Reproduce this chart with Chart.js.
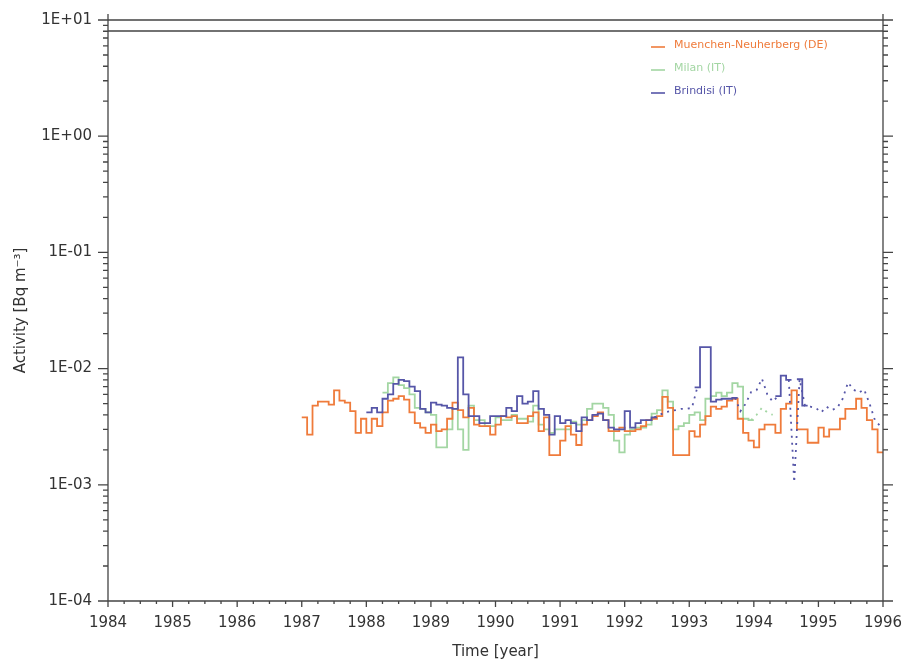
<!DOCTYPE html>
<html>
<head>
<meta charset="utf-8">
<script src="https://cdn.jsdelivr.net/npm/chart.js@4.4.1/dist/chart.umd.min.js"></script>
<style>
  html, body { margin: 0; padding: 0; background: #fff; }
  #wrap { width: 906px; height: 665px; }
</style>
</head>
<body>
<div id="wrap"><canvas id="chartActivity"></canvas></div>
<script>
// ===== ACTIVITY TIME SERIES (monthly, log scale) =====

const FONT = "'DejaVu Sans', sans-serif";
const INK = '#333333';
const AXIS = '#444444';

const COLORS = {
  munich: '#ef7b3b',
  milan: '#a3d6a3',
  brindisi: '#5656a8',
};

const SERIES_LABELS = ['Muenchen-Neuherberg (DE)', 'Milan (IT)', 'Brindisi (IT)'];

const YEARS = [1984, 1985, 1986, 1987, 1988, 1989, 1990, 1991, 1992, 1993, 1994, 1995, 1996];
const DECADES = [1e-4, 1e-3, 1e-2, 1e-1, 1e0, 1e1];
const DECADE_LABELS = ['1E-04', '1E-03', '1E-02', '1E-01', '1E+00', '1E+01'];

// Muenchen-Neuherberg, Jan 1987 - Dec 1995
const munichStart = 1987;
const munich = [
  0.0038, 0.0027, 0.0048, 0.0052, 0.0052, 0.0049, 0.0065, 0.0053, 0.0051, 0.0043, 0.0028, 0.0037,
  0.0028, 0.0037, 0.0032, 0.0042, 0.0053, 0.0055, 0.0058, 0.0054, 0.0042, 0.0034, 0.0031, 0.0028,
  0.0033, 0.0029, 0.0030, 0.0037, 0.0051, 0.0044, 0.0038, 0.0046, 0.0033, 0.0032, 0.0032, 0.0027,
  0.0033, 0.0039, 0.0038, 0.0039, 0.0034, 0.0034, 0.0039, 0.0042, 0.0029, 0.0038, 0.0018, 0.0018,
  0.0024, 0.0032, 0.0027, 0.0022, 0.0033, 0.0036, 0.0039, 0.0042, 0.0036, 0.0029, 0.0029, 0.0031,
  0.0029, 0.0029, 0.0030, 0.0032, 0.0036, 0.0037, 0.0039, 0.0057, 0.0046, 0.0018, 0.0018, 0.0018,
  0.0029, 0.0026, 0.0033, 0.0039, 0.0047, 0.0045, 0.0047, 0.0053, 0.0055, 0.0037, 0.0028, 0.0024,
  0.0021, 0.0030, 0.0033, 0.0033, 0.0028, 0.0045, 0.0050, 0.0065, 0.0030, 0.0030, 0.0023, 0.0023,
  0.0031, 0.0026, 0.0030, 0.0030, 0.0037, 0.0045, 0.0045, 0.0055, 0.0046, 0.0036, 0.0030, 0.0019,
];

// Milan, Apr 1988 - Dec 1993
const milanStart = 1988 + 3 / 12;
const milan = [
  0.0062, 0.0075, 0.0084, 0.0072, 0.0068, 0.0060, 0.0046, 0.0045, 0.0042,
  0.0040, 0.0021, 0.0021, 0.0030, 0.0045, 0.0030, 0.0020, 0.0048, 0.0036, 0.0036, 0.0032, 0.0032,
  0.0038, 0.0036, 0.0036, 0.0040, 0.0037, 0.0037, 0.0035, 0.0048, 0.0033, 0.0030, 0.0028, 0.0030,
  0.0030, 0.0030, 0.0035, 0.0033, 0.0036, 0.0045, 0.0050, 0.0050, 0.0046, 0.0040, 0.0024, 0.0019,
  0.0027, 0.0030, 0.0031, 0.0031, 0.0033, 0.0041, 0.0044, 0.0065, 0.0052, 0.0030, 0.0032, 0.0034,
  0.0040, 0.0042, 0.0036, 0.0055, 0.0058, 0.0062, 0.0058, 0.0062, 0.0075, 0.0070, 0.0037, 0.0036,
];
// Milan, dotted continuation Dec 1993 - Apr 1994
const milanGapStart = 1993 + 11 / 12;
const milanGap = [0.0036, 0.0040, 0.0046, 0.0042, 0.0040];

// Brindisi, Jan 1988 - Oct 1994 (null = missing month)
const brindisiStart = 1988;
const brindisi = [
  0.0042, 0.0046, 0.0042, 0.0055, 0.0060, 0.0074, 0.0080, 0.0078, 0.0070, 0.0064, 0.0045, 0.0042,
  0.0051, 0.0049, 0.0048, 0.0046, 0.0045, 0.0125, 0.0060, 0.0039, 0.0039, 0.0034, 0.0034, 0.0039,
  0.0039, 0.0039, 0.0046, 0.0043, 0.0058, 0.0050, 0.0052, 0.0064, 0.0045, 0.0040, 0.0027, 0.0039,
  0.0034, 0.0036, 0.0034, 0.0029, 0.0038, 0.0036, 0.0040, 0.0041, 0.0036, 0.0031, 0.0030, 0.0030,
  0.0043, 0.0031, 0.0034, 0.0036, 0.0036, 0.0038, null, null, null, null, null, null,
  null, 0.0069, 0.0153, 0.0153, 0.0052, 0.0054, 0.0055, 0.0055, 0.0056, null, null, null,
  null, null, null, null, 0.0058, 0.0087, 0.0080, null, 0.0081, 0.0048,
];
// Brindisi, dotted line Jun 1992 - Dec 1995 (null where the solid steps carry on)
const brindisiGapStart = 1992 + 5 / 12;
const brindisiGap = [
  0.0038, 0.0040, 0.0042, 0.0043, 0.0044, 0.0045, 0.0045,
  0.0046, 0.0069, null, null, null, null, null, null, 0.0056, 0.0043, 0.0050, 0.0063,
  0.0065, 0.0082, 0.0060, 0.0052, 0.0058, null, 0.0080, 0.00105, 0.0081, 0.0048, 0.0047, 0.0046,
  0.0042, 0.0047, 0.0044, 0.0046, 0.0055, 0.0076, 0.0066, 0.0062, 0.0066, 0.0050, 0.0036, 0.0032,
];

// monthly values -> step points, closing each run of months at its end
function stepPoints(start, values) {
  const pts = [];
  values.forEach((v, i) => {
    if (v === null) return;
    pts.push({ x: start + i / 12, y: v });
    const next = values[i + 1];
    if (next === undefined || next === null) {
      pts.push({ x: start + (i + 1) / 12, y: v });
      pts.push({ x: start + (i + 1) / 12, y: null });
    }
  });
  return pts;
}

function midPoints(start, values) {
  return values.map((v, i) => ({ x: start + (i + 0.5) / 12, y: v }));
}

const lineBase = {
  pointRadius: 0,
  pointHoverRadius: 0,
  borderWidth: 1.8,
  fill: false,
  spanGaps: false,
};

// Frame, ticks, double top line and legend, drawn on top
const framePlugin = {
  id: 'frame',
  afterDraw(chart) {
    const { ctx, chartArea: a, scales: { x, y } } = chart;
    ctx.save();
    ctx.strokeStyle = AXIS;
    ctx.lineWidth = 1.3;
    ctx.beginPath();
    ctx.moveTo(a.left, a.top - 6); ctx.lineTo(a.left, a.bottom);
    ctx.lineTo(a.right, a.bottom);
    ctx.moveTo(a.right, a.top - 6); ctx.lineTo(a.right, a.bottom);
    ctx.moveTo(a.left - 10, a.top); ctx.lineTo(a.right + 10, a.top);
    ctx.moveTo(a.left, a.top + 11); ctx.lineTo(a.right, a.top + 11);

    DECADES.forEach((d, i) => {
      const py = y.getPixelForValue(d);
      ctx.moveTo(a.left - 10, py); ctx.lineTo(a.left, py);
      ctx.moveTo(a.right, py); ctx.lineTo(a.right + 10, py);
      if (i < DECADES.length - 1) {
        for (let m = 2; m <= 9; m++) {
          const p = y.getPixelForValue(d * m);
          ctx.moveTo(a.left - 5, p); ctx.lineTo(a.left, p);
          ctx.moveTo(a.right, p); ctx.lineTo(a.right + 5, p);
        }
      }
    });

    YEARS.forEach((yr, i) => {
      const px = x.getPixelForValue(yr);
      ctx.moveTo(px, a.bottom); ctx.lineTo(px, a.bottom + 6);
      if (i < YEARS.length - 1) {
        for (let q = 1; q < 4; q++) {
          const p = x.getPixelForValue(yr + q / 4);
          ctx.moveTo(p, a.bottom); ctx.lineTo(p, a.bottom + 3);
        }
      }
    });
    ctx.stroke();

    // legend
    const legendColors = [COLORS.munich, COLORS.milan, COLORS.brindisi];
    ctx.font = '11px ' + FONT;
    ctx.textBaseline = 'middle';
    ctx.lineWidth = 1.6;
    SERIES_LABELS.forEach((label, i) => {
      const ly = a.top + 26 + i * 23;
      const lx = a.left + 543;
      ctx.strokeStyle = legendColors[i];
      ctx.beginPath();
      ctx.moveTo(lx, ly + 1); ctx.lineTo(lx + 14, ly + 1);
      ctx.stroke();
      ctx.fillStyle = legendColors[i];
      ctx.fillText(label, lx + 23, ly - 1);
    });
    ctx.restore();
  }
};

const ctxActivity = document.getElementById('chartActivity');
if (ctxActivity) {
  new Chart(ctxActivity, {
    type: 'line',
    data: {
      datasets: [
        {
          ...lineBase,
          label: SERIES_LABELS[2],
          data: stepPoints(brindisiStart, brindisi),
          borderColor: COLORS.brindisi,
          stepped: 'before',
          order: 0,
        },
        {
          ...lineBase,
          label: SERIES_LABELS[2] + ' gaps',
          data: midPoints(brindisiGapStart, brindisiGap),
          borderColor: COLORS.brindisi,
          borderDash: [2, 5],
          order: 0,
        },
        {
          ...lineBase,
          label: SERIES_LABELS[0],
          data: stepPoints(munichStart, munich),
          borderColor: COLORS.munich,
          stepped: 'before',
          order: 1,
        },
        {
          ...lineBase,
          label: SERIES_LABELS[1],
          data: stepPoints(milanStart, milan),
          borderColor: COLORS.milan,
          stepped: 'before',
          order: 2,
        },
        {
          ...lineBase,
          label: SERIES_LABELS[1] + ' gaps',
          data: midPoints(milanGapStart, milanGap),
          borderColor: COLORS.milan,
          borderDash: [2, 5],
          order: 2,
        },
      ]
    },
    options: {
      responsive: true,
      maintainAspectRatio: false,
      animation: false,
      layout: { padding: { top: 20, right: 23, left: 0, bottom: 0 } },
      plugins: {
        legend: { display: false },
        tooltip: { enabled: false },
      },
      scales: {
        x: {
          type: 'linear',
          min: YEARS[0],
          max: YEARS[YEARS.length - 1],
          afterBuildTicks: (s) => { s.ticks = YEARS.map(v => ({ value: v })); },
          afterFit: (s) => { s.height = 64; s.paddingLeft = 0; s.paddingRight = 0; },
          grid: { display: false, drawTicks: false },
          border: { display: false },
          ticks: {
            padding: 13,
            color: INK,
            autoSkip: false,
            maxRotation: 0,
            font: { family: FONT, size: 15 },
            callback: (v) => String(v),
          },
          title: {
            display: true,
            text: 'Time [year]',
            color: INK,
            font: { family: FONT, size: 15 },
            padding: { top: 0, bottom: 4 },
          }
        },
        y: {
          type: 'logarithmic',
          min: DECADES[0],
          max: DECADES[DECADES.length - 1],
          afterBuildTicks: (s) => { s.ticks = DECADES.map(v => ({ value: v })); },
          afterFit: (s) => { s.width = 108; s.paddingTop = 0; s.paddingBottom = 0; },
          grid: { display: false, drawTicks: false },
          border: { display: false },
          ticks: {
            padding: 16,
            color: INK,
            autoSkip: false,
            font: { family: FONT, size: 15 },
            callback: (v, i) => DECADE_LABELS[i],
          },
          title: {
            display: true,
            text: 'Activity [Bq m⁻³]',
            color: INK,
            font: { family: FONT, size: 15 },
            padding: { top: 12, bottom: 0 },
          }
        }
      }
    },
    plugins: [framePlugin]
  });
}
</script>
</body>
</html>
